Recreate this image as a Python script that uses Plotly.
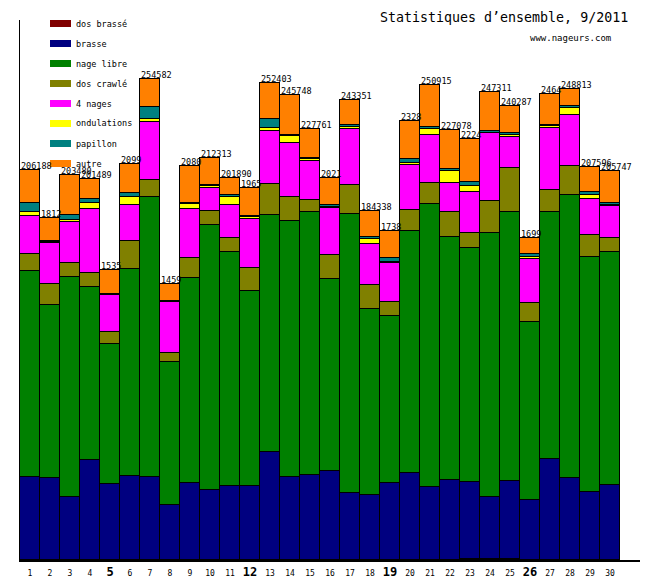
import plotly.graph_objects as go

days = list(range(1, 31))

series_names = ["dos brassé", "brasse", "nage libre", "dos crawlé", "4 nages",
                "ondulations", "papillon", "autre"]
series_colors = ["#800000", "#000080", "#008000", "#808000", "#FF00FF",
                 "#FFFF00", "#008080", "#FF8000"]

dos_brasse = [0]*22 + [400, 400, 400] + [0]*5
brasse = [43800, 43300, 33200, 52800, 40100, 44400, 43800, 29000, 40700, 36900,
          39100, 39100, 57100, 43800, 44900, 47000, 35400, 34300, 40700, 46000,
          38500, 42200, 40800, 32900, 41300, 31600, 53500, 43500, 35900, 39600]
nage_libre = [109200, 91700, 117000, 92100, 74200, 109700, 148400, 75800, 108700, 140500,
              124000, 103400, 125600, 135700, 139400, 102100, 147900, 98600, 88500, 128300,
              150000, 128800, 124000, 139900, 142600, 94300, 130800, 149800, 124600, 123900]
dos_crawle = [9000, 11100, 7000, 7000, 6400, 14800, 9000, 4800, 10600, 7400,
              7400, 12200, 16400, 12700, 6400, 12300, 15400, 12700, 7400, 11100,
              11100, 13300, 8000, 17000, 23300, 10100, 11700, 15400, 11700, 6900]
quatre_nages = [20500, 21700, 22100, 33900, 19500, 19100, 31100, 27000, 26000, 12600,
                17500, 26000, 28100, 29000, 21000, 25400, 29700, 21700, 21000, 24200,
                25400, 15400, 21700, 36000, 16400, 23300, 33200, 27000, 19100, 17000]
ondulations = [1700, 900, 900, 3200, 500, 4200, 1400, 500, 2500, 700,
               4600, 900, 1600, 3600, 700, 500, 1100, 2700, 300, 700,
               3200, 6400, 3200, 300, 1400, 1400, 700, 3700, 2100, 900]
papillon = [4800, 500, 2500, 2100, 500, 2300, 6200, 400, 800, 700,
            700, 900, 4800, 500, 700, 1100, 1200, 1200, 2100, 2100,
            1200, 1200, 2300, 1100, 700, 1400, 700, 1200, 1600, 800]
autre = [17600, 12200, 21200, 10600, 12700, 15400, 14800, 9000, 19500, 14200,
         9000, 14700, 19100, 21000, 15200, 14200, 13100, 13600, 14300, 20500,
         22100, 20500, 22600, 20500, 14700, 8300, 16300, 8900, 13300, 17000]

# visible (partly hidden) total labels
total_labels = ["206188", "1812", "203480", "201489", "1535", "2099", "254582", "1459",
                "2080", "212313", "201890", "1965", "252403", "245748", "227761", "2021",
                "243351", "184338", "1738", "2328", "250915", "227078", "2224", "247311",
                "240287", "1699", "2464", "248813", "207596", "205747"]
bold_days = [5, 12, 19, 26]

series_values = [dos_brasse, brasse, nage_libre, dos_crawle, quatre_nages,
                 ondulations, papillon, autre]

MONO = "DejaVu Sans Mono"

fig = go.Figure()
for name, color, vals in zip(series_names, series_colors, series_values):
    fig.add_trace(go.Bar(x=days, y=vals, name=name, marker_color=color,
                         marker_line_color="black", marker_line_width=1,
                         showlegend=False))

totals = [sum(v[i] for v in series_values) for i in range(30)]

annotations = []
for d, t, lab in zip(days, totals, total_labels):
    annotations.append(dict(x=d - 0.5, y=t, xref="x", yref="y", text=lab,
                            showarrow=False, xanchor="left", yanchor="bottom",
                            yshift=-3, xshift=-1,
                            font=dict(family=MONO, size=8.5, color="black")))

# custom legend (pixel -> paper conversion: plot area x 20..640, y 20..560)
def px(xp):
    return (xp - 20) / 620.0

def py(yp):
    return (560 - yp) / 540.0

shapes = []
for i, (name, color) in enumerate(zip(series_names, series_colors)):
    top = 20 + 20 * i
    shapes.append(dict(type="rect", xref="paper", yref="paper",
                       x0=px(50), x1=px(71), y0=py(top + 7), y1=py(top),
                       fillcolor=color, line=dict(width=0)))
    annotations.append(dict(x=px(74), y=py(top + 3.5), xref="paper", yref="paper",
                            text=name, showarrow=False, xanchor="left", yanchor="middle",
                            font=dict(family=MONO, size=8.5, color="black")))

annotations.append(dict(x=px(378), y=py(18), xref="paper", yref="paper",
                        text="Statistiques d’ensemble, 9/2011", showarrow=False,
                        xanchor="left", yanchor="middle",
                        font=dict(family=MONO, size=13.3, color="black")))
annotations.append(dict(x=px(613), y=py(37.5), xref="paper", yref="paper",
                        text="www.nageurs.com", showarrow=False,
                        xanchor="right", yanchor="middle",
                        font=dict(family=MONO, size=9, color="black")))

ticktext = [f"<b><span style='font-size:12px'>{d}</span></b>" if d in bold_days else str(d)
            for d in days]

fig.update_layout(
    width=660, height=580,
    margin=dict(l=20, r=20, t=20, b=20),
    paper_bgcolor="white", plot_bgcolor="white",
    barmode="stack", bargap=0,
    showlegend=False,
    annotations=annotations, shapes=shapes,
    font=dict(family=MONO, size=8, color="black"),
    xaxis=dict(range=[0.5, 31.5], tickvals=days, ticktext=ticktext, showgrid=False,
               zeroline=False, showline=True, linecolor="black", linewidth=2,
               ticks="", tickangle=0, automargin=False, ticklabelstandoff=4,
               tickfont=dict(family=MONO, size=8)),
    yaxis=dict(range=[0, 286200], showticklabels=False, showgrid=False, zeroline=False,
               showline=True, linecolor="black", linewidth=1, ticks="",
               automargin=False),
)

fig.write_html("out.html")
